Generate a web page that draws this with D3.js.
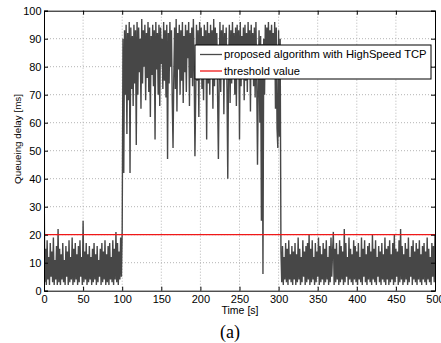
<!DOCTYPE html>
<html>
<head>
<meta charset="utf-8">
<script src="https://cdn.jsdelivr.net/npm/d3@7"></script>
<style>
  body { margin: 0; background: #fff; }
  svg { display: block; }
  .tick text { font-family: "Liberation Sans", Arial, sans-serif; font-size: 11px; fill: #000; }
  .grid line { stroke: #b4b4b4; stroke-dasharray: 1,2; }
</style>
</head>
<body>
<svg id="chart"></svg>
<script>
// queueing delay [ms], one sample per second
// t = 0 .. 100
var lowStart = [
  46, 3, 15, 2, 18, 4, 12, 2, 17, 5, 14, 3, 19, 2, 11, 4, 16, 2, 22, 3,
  15, 2, 13, 4, 17, 3, 11, 2, 16, 5, 14, 2, 18, 3, 12, 4, 19, 2, 15, 3,
  17, 4, 13, 2, 16, 3, 18, 5, 12, 2, 25, 3, 14, 4, 17, 2, 13, 3, 16, 4,
  12, 2, 15, 3, 17, 4, 13, 2, 16, 3, 11, 5, 15, 2, 17, 3, 14, 4, 18, 2,
  13, 3, 16, 2, 17, 4, 12, 3, 18, 2, 15, 4, 21, 3, 17, 2, 14, 4, 19, 5,
  22
];
// t = 101 .. 302
var highPhase = [
  90, 42, 93, 70, 95, 56, 92, 68, 96, 42, 94, 72, 91, 66, 95, 74, 93, 52, 96,
  70, 94, 78, 90, 65, 97, 74, 93, 80, 95, 68, 92, 76, 96, 71, 94, 62, 91, 77, 95,
  73, 93, 54, 96, 79, 92, 70, 95, 66, 94, 81, 90, 72, 96, 75, 93, 69, 95, 47, 92,
  74, 96, 80, 93, 68, 51, 77, 94, 72, 97, 64, 92, 79, 95, 70, 93, 75, 96, 67, 91,
  78, 95, 71, 93, 83, 96, 66, 92, 76, 94, 73, 97, 80, 48, 70, 95, 75, 93, 62, 96,
  79, 94, 72, 91, 68, 95, 81, 93, 54, 96, 74, 92, 70, 95, 77, 93, 65, 97, 73, 94,
  80, 92, 69, 47, 75, 96, 71, 93, 78, 95, 63, 92, 76, 94, 72, 40, 79, 95, 67, 93,
  74, 96, 81, 92, 70, 94, 66, 95, 77, 93, 54, 96, 73, 91, 79, 94, 68, 95, 75, 92,
  71, 96, 78, 93, 64, 95, 80, 92, 73, 94, 69, 96, 76, 45, 72, 93, 60, 91, 25, 88,
  6, 90, 70, 95, 79, 94, 82, 96, 78, 93, 84, 95, 80, 92, 77, 96, 65, 94, 58, 51, 93, 55, 90
];
// t = 303 .. 500
var lowEnd = [
  14, 3, 16, 2, 12, 4, 17, 3, 15, 2, 18, 4, 13, 3, 16, 2, 14,
  4, 17, 2, 13, 3, 19, 4, 15, 2, 12, 3, 18, 5, 14, 2, 16, 3, 17, 4, 20,
  2, 15, 3, 18, 4, 12, 2, 17, 3, 14, 5, 19, 2, 16, 3, 13, 4, 17, 2, 15,
  3, 18, 4, 12, 2, 16, 3, 19, 5, 14, 21, 2, 15, 3, 17, 4, 13, 2, 18, 3,
  16, 4, 14, 2, 22, 3, 17, 5, 12, 2, 19, 4, 15, 3, 13, 2, 18, 4, 16, 3,
  14, 2, 17, 4, 12, 3, 19, 2, 15, 5, 18, 3, 13, 2, 16, 4, 17, 3, 14, 2,
  20, 4, 15, 3, 18, 2, 12, 5, 16, 3, 14, 2, 17, 4, 13, 3, 19, 2, 15, 4,
  16, 2, 18, 3, 13, 4, 17, 2, 20, 3, 15, 5, 14, 2, 18, 3, 22, 4, 16, 2,
  13, 3, 17, 4, 15, 2, 19, 3, 12, 5, 16, 2, 18, 4, 14, 3, 17, 2, 15, 4,
  18, 3, 13, 2, 16, 4, 17, 3, 14, 2, 19, 4, 15, 3, 12, 2, 17, 5, 16, 3, 20
];
var threshold = 20;
var xTicks = [0, 50, 100, 150, 200, 250, 300, 350, 400, 450, 500];
var yTicks = [0, 10, 20, 30, 40, 50, 60, 70, 80, 90, 100];
var legendLabels = ["proposed algorithm with HighSpeed TCP", "threshold value"];

var width = 441, height = 343;
var margin = {top: 10.7, right: 6, bottom: 52.3, left: 44};

var svg = d3.select("#chart")
    .attr("width", width)
    .attr("height", height);

var x = d3.scaleLinear().domain([0, 500]).range([margin.left, width - margin.right]);
var y = d3.scaleLinear().domain([0, 100]).range([height - margin.bottom, margin.top]);

var series = lowStart.concat(highPhase, lowEnd).map((v, i) => ({t: i, v: v}));

svg.append("clipPath").attr("id", "plot-clip")
  .append("rect")
    .attr("x", x(0)).attr("y", y(100))
    .attr("width", x(500) - x(0)).attr("height", y(0) - y(100));

// dotted grid
var grid = svg.append("g").attr("class", "grid");
grid.selectAll(".gx")
  .data(xTicks.slice(1, -1))
  .enter().append("line")
    .attr("x1", d => x(d)).attr("x2", d => x(d))
    .attr("y1", y(0)).attr("y2", y(100));
grid.selectAll(".gy")
  .data(yTicks.slice(1, -1))
  .enter().append("line")
    .attr("x1", x(0)).attr("x2", x(500))
    .attr("y1", d => y(d)).attr("y2", d => y(d));

// queueing delay trace
var line = d3.line().x(d => x(d.t)).y(d => y(d.v));
svg.append("path")
    .datum(series)
    .attr("clip-path", "url(#plot-clip)")
    .attr("d", line)
    .style("fill", "none")
    .style("stroke", "#474747")
    .style("stroke-width", 1.4)
    .style("stroke-linejoin", "bevel");

// threshold
svg.append("line")
    .attr("x1", x(0)).attr("x2", x(500))
    .attr("y1", y(threshold)).attr("y2", y(threshold))
    .style("stroke", "#f01818")
    .style("stroke-width", 1.3);

// axes, matlab style with ticks inside
svg.append("g")
    .attr("transform", "translate(0," + y(0) + ")")
    .call(d3.axisBottom(x).tickValues(xTicks).tickSize(-4).tickPadding(5));
svg.append("g")
    .attr("transform", "translate(0," + y(100) + ")")
    .call(d3.axisTop(x).tickValues(xTicks).tickSize(-4).tickFormat(""));
svg.append("g")
    .attr("transform", "translate(" + x(0) + ",0)")
    .call(d3.axisLeft(y).tickValues(yTicks).tickSize(-4).tickPadding(2.5));
svg.append("g")
    .attr("transform", "translate(" + x(500) + ",0)")
    .call(d3.axisRight(y).tickValues(yTicks).tickSize(-4).tickFormat(""));
svg.selectAll(".domain").attr("stroke", "#000").attr("stroke-width", 1);
svg.selectAll(".tick line").attr("stroke", "#000");

// labels
svg.append("text")
    .attr("x", 240).attr("y", 314)
    .attr("text-anchor", "middle")
    .style("font-family", "Liberation Sans, Arial, sans-serif")
    .style("font-size", "10.5px")
    .text("Time [s]");
svg.append("text")
    .attr("transform", "translate(21,139) rotate(-90)")
    .attr("text-anchor", "middle")
    .style("font-family", "Liberation Sans, Arial, sans-serif")
    .style("font-size", "9.8px")
    .text("Queueing delay [ms]");
svg.append("text")
    .attr("x", 230).attr("y", 338)
    .attr("text-anchor", "middle")
    .style("font-family", "Liberation Serif, Times New Roman, serif")
    .style("font-size", "18px")
    .text("(a)");

// legend
var legend = svg.append("g").attr("transform", "translate(195,45)");
legend.append("rect")
    .attr("width", 236).attr("height", 34)
    .style("fill", "#fff")
    .style("stroke", "#000")
    .style("stroke-width", 1);
var legendColors = ["#4a4a4a", "#f01818"];
var rows = legend.selectAll(".row")
  .data(legendLabels)
  .enter().append("g")
    .attr("transform", (d, i) => "translate(0," + (9.5 + i * 16.5) + ")");
rows.append("line")
    .attr("x1", 5).attr("x2", 27)
    .style("stroke", (d, i) => legendColors[i])
    .style("stroke-width", 1.3);
rows.append("text")
    .attr("x", 29).attr("dy", "0.35em")
    .style("font-family", "Liberation Sans, Arial, sans-serif")
    .style("font-size", "11.2px")
    .text(d => d);
</script>
</body>
</html>
